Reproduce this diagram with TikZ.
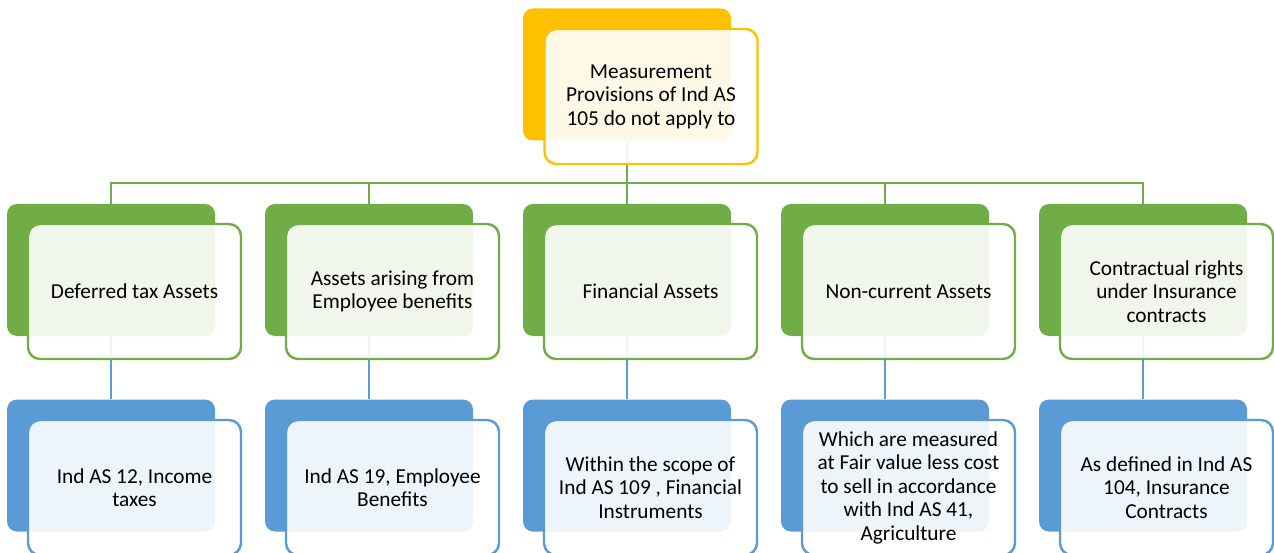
\documentclass[tikz,border=0pt]{standalone}
\usepackage{fontspec}
\setmainfont{Carlito}

\definecolor{accgold}{HTML}{FFC000}
\definecolor{accgreen}{HTML}{70AD47}
\definecolor{accblue}{HTML}{5B9BD5}

\begin{document}
\begin{tikzpicture}[
    x=1pt, y=-1pt,
    back/.style      = {rectangle, rounded corners=10pt, inner sep=0pt,
                        minimum width=208pt, minimum height=132pt},
    front/.style     = {rectangle, rounded corners=12pt, draw, line width=2.4pt,
                        fill=white, fill opacity=0.9, text opacity=1,
                        minimum width=213pt, minimum height=135pt,
                        inner sep=0pt, align=center, text=black,
                        font=\fontsize{21.3}{23.5}\selectfont},
    % filled card behind, outlined card in front
    goldback/.style  = {back, fill=accgold},
    greenback/.style = {back, fill=accgreen},
    blueback/.style  = {back, fill=accblue},
    goldfront/.style = {front, draw=accgold},
    greenfront/.style= {front, draw=accgreen},
    bluefront/.style = {front, draw=accblue},
    link/.style      = {line width=2.4pt},
]
\clip (0,0) rectangle (1274,553);
\useasboundingbox (0,0) rectangle (1274,553);

% ============================================================
%  BACK CARDS
%   columns at x = 111, 369, 627, 885, 1143
%   rows    : top y = 74.5, middle y = 270, bottom y = 465.5
% ============================================================
\node[goldback]  (topb) at (627, 74.5) {};

\node[greenback] (g1b) at (111, 270) {};
\node[greenback] (g2b) at (369, 270) {};
\node[greenback] (g3b) at (627, 270) {};
\node[greenback] (g4b) at (885, 270) {};
\node[greenback] (g5b) at (1143, 270) {};

\node[blueback]  (b1b) at (111, 465.5) {};
\node[blueback]  (b2b) at (369, 465.5) {};
\node[blueback]  (b3b) at (627, 465.5) {};
\node[blueback]  (b4b) at (885, 465.5) {};
\node[blueback]  (b5b) at (1143, 465.5) {};

% ============================================================
%  CONNECTORS (under the front cards)
% ============================================================
\coordinate (bus) at (627, 183);
% top card down to the bus
\draw[link, accgreen] (topb.south) -- (topb.south |- bus);
% bus with the two outer drops
\draw[link, accgreen] (g1b.north) |- (bus) -| (g5b.north);
% inner drops
\draw[link, accgreen] (g2b.north |- bus) -- (g2b.north);
\draw[link, accgreen] (g3b.north |- bus) -- (g3b.north);
\draw[link, accgreen] (g4b.north |- bus) -- (g4b.north);

% middle row down to bottom row
\draw[link, accblue] (g1b.south) -- (b1b.north);
\draw[link, accblue] (g2b.south) -- (b2b.north);
\draw[link, accblue] (g3b.south) -- (b3b.north);
\draw[link, accblue] (g4b.south) -- (b4b.north);
\draw[link, accblue] (g5b.south) -- (b5b.north);

% ============================================================
%  FRONT CARDS WITH TEXT
% ============================================================
\node[goldfront] (topf) at ([shift={(24,22)}]topb)
    {Measurement\\Provisions of Ind AS\\105 do not apply to};

% ---- middle row ---------------------------------------------
\node[greenfront] (g1f) at ([shift={(23.5,21.5)}]g1b)
    {Deferred tax Assets};
\node[greenfront] (g2f) at ([shift={(23.5,21.5)}]g2b)
    {Assets arising from\\Employee benefits};
\node[greenfront] (g3f) at ([shift={(23.5,21.5)}]g3b)
    {Financial Assets};
\node[greenfront] (g4f) at ([shift={(23.5,21.5)}]g4b)
    {Non-current Assets};
\node[greenfront] (g5f) at ([shift={(23.5,21.5)}]g5b)
    {Contractual rights\\under Insurance\\contracts};

% ---- bottom row ---------------------------------------------
\node[bluefront] (b1f) at ([shift={(23.5,22)}]b1b)
    {Ind AS 12, Income\\taxes};
\node[bluefront] (b2f) at ([shift={(23.5,22)}]b2b)
    {Ind AS 19, Employee\\Benefits};
\node[bluefront] (b3f) at ([shift={(23.5,22)}]b3b)
    {Within the scope of\\Ind AS 109 , Financial\\Instruments};
\node[bluefront] (b4f) at ([shift={(23.5,22)}]b4b)
    {Which are measured\\at Fair value less cost\\to sell in accordance\\with Ind AS 41,\\Agriculture};
\node[bluefront] (b5f) at ([shift={(23.5,22)}]b5b)
    {As defined in Ind AS\\104, Insurance\\Contracts};

\end{tikzpicture}
\end{document}
